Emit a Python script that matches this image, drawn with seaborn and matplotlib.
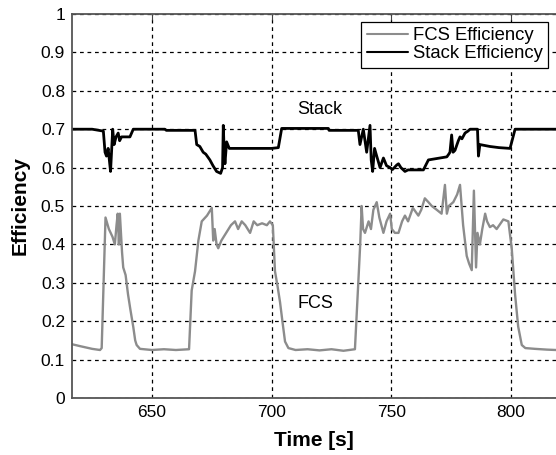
import matplotlib
matplotlib.use("Agg")
import matplotlib.pyplot as plt
import seaborn as sns
import pandas as pd

fcs_time = [616.6, 620, 625, 628.3, 629, 630.6, 632, 633.5, 634.5, 635.2, 635.7, 636.2, 636.6, 637.5,
            638, 639, 640, 641, 642.2, 643, 643.6, 645, 650, 655, 660, 665.5, 666.6, 668, 669.4, 670.8,
            673, 675, 675.6, 676.2, 677, 677.7, 679, 681, 682, 683, 684.7, 686, 687.5, 689, 691, 692.5,
            694, 696, 698, 699.3, 700.5, 701.4, 702.5, 703.5, 704.5, 705.6, 707, 710, 715, 720, 725, 730,
            734.8, 736.2, 737, 737.6, 738.2, 739, 740.5, 741.5, 742.5, 743.9, 745, 746.7, 748, 749.5,
            750.2, 751.5, 753, 754.5, 755.7, 757, 759, 761.3, 762.5, 764, 765.5, 766.9, 769, 771, 772.4,
            773.2, 774, 775.9, 777.5, 778.7, 780, 781.5, 782.5, 783.6, 784.5, 785.4, 786, 787, 788, 789.2,
            790, 791.2, 792.5, 794, 796.8, 798.9, 800.3, 801.7, 803, 804.5, 806, 810, 815, 818.8]
fcs_eff = [0.14, 0.135, 0.128, 0.125, 0.13, 0.47, 0.44, 0.42, 0.40, 0.45, 0.48, 0.40, 0.48, 0.38,
           0.34, 0.32, 0.27, 0.23, 0.185, 0.15, 0.138, 0.128, 0.125, 0.127, 0.125, 0.127, 0.28, 0.33, 0.41, 0.46,
           0.475, 0.495, 0.41, 0.44, 0.40, 0.39, 0.41, 0.43, 0.44, 0.45, 0.46, 0.44, 0.46, 0.45, 0.43, 0.46,
           0.45, 0.455, 0.45, 0.46, 0.45, 0.33, 0.29, 0.25, 0.20, 0.147, 0.13, 0.125, 0.127, 0.124, 0.127, 0.123,
           0.127, 0.30, 0.40, 0.50, 0.44, 0.43, 0.46, 0.44, 0.49, 0.51, 0.47, 0.43, 0.46, 0.48,
           0.44, 0.43, 0.43, 0.46, 0.475, 0.46, 0.495, 0.475, 0.49, 0.52, 0.51, 0.50, 0.49, 0.48, 0.555,
           0.48, 0.50, 0.51, 0.53, 0.555, 0.45, 0.37, 0.35, 0.333, 0.54, 0.34, 0.43, 0.40, 0.44, 0.48,
           0.46, 0.445, 0.45, 0.44, 0.465, 0.46, 0.39, 0.27, 0.186, 0.138, 0.13, 0.128, 0.126, 0.125]

stack_time = [616.6, 625, 629.7, 630.4, 631, 631.7, 632.2, 632.7, 633.2, 633.6, 634.2, 635, 635.9, 636.5,
              637.3, 640.8, 642.2, 655.4, 656, 668, 668.7, 670, 671.4, 672.5, 674.2, 675.5, 677, 678.7,
              679.5, 679.8, 680.2, 680.5, 681.2, 682.3, 690, 700, 702.8, 704.2, 723.7, 724, 736.2, 736.9,
              738.3, 739.7, 741.1, 741.6, 742.2, 743, 743.9, 745.3, 746.7, 748, 749.5, 750.5, 752.3, 753,
              754, 755.7, 757, 763.4, 765.5, 773.2, 774, 774.5, 775.2, 775.8, 776.6, 778, 778.7, 779.5,
              780.8, 782, 782.9, 785, 786, 786.4, 787, 791.2, 795, 799.6, 801.7, 818.8]
stack_eff = [0.70, 0.70, 0.695, 0.64, 0.63, 0.65, 0.62, 0.59, 0.65, 0.70, 0.66, 0.68, 0.69, 0.67,
             0.68, 0.68, 0.70, 0.70, 0.697, 0.697, 0.66, 0.655, 0.64, 0.635, 0.62, 0.605, 0.59, 0.585,
             0.60, 0.71, 0.64, 0.61, 0.667, 0.65, 0.65, 0.65, 0.652, 0.702, 0.702, 0.697, 0.697, 0.66,
             0.70, 0.64, 0.71, 0.62, 0.59, 0.65, 0.63, 0.60, 0.625, 0.605, 0.60, 0.595, 0.607, 0.61,
             0.60, 0.59, 0.594, 0.594, 0.62, 0.628, 0.635, 0.64, 0.685, 0.64, 0.645, 0.67, 0.68, 0.675,
             0.69, 0.695, 0.70, 0.70, 0.70, 0.63, 0.66, 0.655, 0.652, 0.65, 0.70, 0.70]

x_ticks = [650, 700, 750, 800]
y_ticks = [0, 0.1, 0.2, 0.3, 0.4, 0.5, 0.6, 0.7, 0.8, 0.9, 1]
y_tick_labels = ["0", "0.1", "0.2", "0.3", "0.4", "0.5", "0.6", "0.7", "0.8", "0.9", "1"]

sns.set_style("white")
plt.rcParams["font.family"] = ["Liberation Sans", "DejaVu Sans"]
plt.rcParams["text.color"] = "black"

fig = plt.figure(figsize=(5.56, 4.55), dpi=100)
ax = fig.add_axes([72 / 556, 1 - 398 / 455, 1 - 72 / 556, (398 - 14) / 455])

df_fcs = pd.DataFrame({"Time": fcs_time, "Efficiency": fcs_eff})
df_stack = pd.DataFrame({"Time": stack_time, "Efficiency": stack_eff})

sns.lineplot(data=df_fcs, x="Time", y="Efficiency", ax=ax, color="#8c8c8c", linewidth=1.7,
             estimator=None, sort=False, label="FCS Efficiency")
sns.lineplot(data=df_stack, x="Time", y="Efficiency", ax=ax, color="black", linewidth=2.0,
             estimator=None, sort=False, label="Stack Efficiency")

ax.set_xlim(616.6, 818.8)
ax.set_ylim(0, 1)
ax.set_xticks(x_ticks)
ax.set_xticklabels([str(v) for v in x_ticks])
ax.set_yticks(y_ticks)
ax.set_yticklabels(y_tick_labels)
ax.tick_params(axis="both", labelsize=12.5, direction="in", length=4, color="#444444",
               labelcolor="black", pad=5)
ax.tick_params(axis="x", top=True)

ax.grid(True, color="black", linestyle=(0, (3, 3)), linewidth=0.9)
for side in ["left", "bottom", "top"]:
    ax.spines[side].set_color("#555555")
    ax.spines[side].set_linewidth(1.3)
ax.spines["right"].set_visible(False)

ax.set_xlabel("Time [s]", fontsize=15, fontweight="bold", labelpad=8, color="black")
ax.set_ylabel("Efficiency", fontsize=15, fontweight="bold", labelpad=8, color="black")

ax.text(720.2, 0.75, "Stack", fontsize=13, ha="center", va="center", color="black")
ax.text(718.1, 0.245, "FCS", fontsize=13, ha="center", va="center", color="black")

leg = ax.legend(loc="upper right", fontsize=13.3, frameon=True, fancybox=False,
                edgecolor="black", framealpha=1, borderaxespad=0.43, handlelength=2.2,
                handletextpad=0.27, borderpad=0.3, labelspacing=0.05)
leg.get_frame().set_linewidth(0.9)
for h in leg.get_lines():
    h.set_linewidth(1.5)
for t in leg.get_texts():
    t.set_color("black")

fig.savefig("out.png", dpi=100)
